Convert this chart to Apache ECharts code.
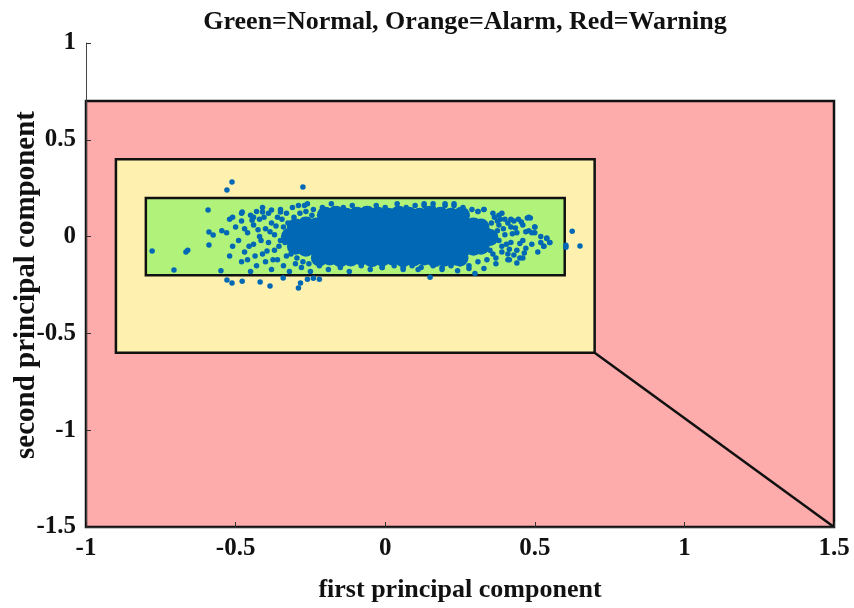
<!DOCTYPE html>
<html>
<head>
<meta charset="utf-8">
<script src="https://cdn.jsdelivr.net/npm/echarts@6/dist/echarts.min.js"></script>
<style>
  html, body { margin: 0; padding: 0; background: #fff; }
  #main { width: 854px; height: 608px; }
</style>
</head>
<body>
<div id="main"></div>
<script>
// control limits (polygon corners, data units)
var redZone = [[-1, 0.7], [1.5, 0.7], [1.5, -1.5], [-1, -1.5]];
var yellowZone = [[-0.9, 0.4], [0.7, 0.4], [0.7, -0.6], [-0.9, -0.6]];
var greenZone = [[-0.8, 0.2], [0.6, 0.2], [0.6, -0.2], [-0.8, -0.2]];
var diagonal = [[0.7, -0.6], [1.5, -1.5]];

var xTicks = [-1, -0.5, 0, 0.5, 1, 1.5];
var yTicks = [-1.5, -1, -0.5, 0, 0.5, 1];

// dense middle of the cloud (drawn with bigger dots)
var corePoints = [
    [-0.20, 0.11], [-0.165, 0.115], [-0.13, 0.105], [-0.095, 0.11], [-0.06, 0.115], [-0.025, 0.11], [0.01, 0.105],
    [0.045, 0.115], [0.08, 0.11], [0.115, 0.105], [0.15, 0.115], [0.185, 0.11], [0.22, 0.105], [0.255, 0.11],
    [-0.30, 0.05], [-0.265, 0.06], [-0.23, 0.055], [-0.195, 0.05], [-0.16, 0.06], [-0.125, 0.055], [-0.09, 0.05],
    [-0.055, 0.06], [-0.02, 0.055], [0.015, 0.05], [0.05, 0.06], [0.085, 0.055], [0.12, 0.05], [0.155, 0.06],
    [0.19, 0.055], [0.225, 0.05], [0.26, 0.06], [0.295, 0.055], [0.32, 0.05],
    [-0.32, 0.0], [-0.295, 0.005], [-0.26, -0.005], [-0.225, 0.0], [-0.19, 0.005], [-0.155, -0.005], [-0.12, 0.0],
    [-0.085, 0.005], [-0.05, -0.005], [-0.015, 0.0], [0.02, 0.005], [0.055, -0.005], [0.09, 0.0], [0.125, 0.005],
    [0.16, -0.005], [0.195, 0.0], [0.23, 0.005], [0.265, -0.005], [0.30, 0.0], [0.335, 0.005], [0.35, -0.005],
    [-0.30, -0.05], [-0.265, -0.06], [-0.23, -0.055], [-0.195, -0.05], [-0.16, -0.06], [-0.125, -0.055], [-0.09, -0.05],
    [-0.055, -0.06], [-0.02, -0.055], [0.015, -0.05], [0.05, -0.06], [0.085, -0.055], [0.12, -0.05], [0.155, -0.06],
    [0.19, -0.055], [0.225, -0.05], [0.26, -0.06], [0.295, -0.055], [0.32, -0.05],
    [-0.22, -0.11], [-0.185, -0.105], [-0.15, -0.115], [-0.115, -0.11], [-0.08, -0.105], [-0.045, -0.115], [-0.01, -0.11],
    [0.025, -0.105], [0.06, -0.115], [0.095, -0.11], [0.13, -0.105], [0.165, -0.115], [0.20, -0.11], [0.235, -0.105],
    [0.25, -0.11]
];

// scattered points round the edge of the cloud, and outliers
var edgePoints = [
    [-0.50, 0.05], [-0.49, -0.02], [-0.48, 0.08], [-0.47, -0.08], [-0.46, 0.02], [-0.46, -0.12], [-0.45, 0.11],
    [-0.44, -0.04], [-0.44, 0.06], [-0.43, -0.15], [-0.42, 0.0], [-0.42, 0.09], [-0.41, -0.09], [-0.40, 0.04],
    [-0.40, -0.13], [-0.39, 0.12], [-0.39, -0.03], [-0.38, 0.07], [-0.38, -0.17], [-0.37, -0.07], [-0.37, 0.01],
    [-0.36, 0.10], [-0.36, -0.12], [-0.35, 0.14], [-0.35, -0.02], [-0.34, -0.15], [-0.34, 0.05], [-0.33, -0.10],
    [-0.33, 0.12], [-0.32, -0.18], [-0.31, 0.15], [-0.30, -0.14], [-0.52, -0.10], [-0.53, 0.02], [-0.51, -0.05],
    [-0.48, -0.13], [-0.45, -0.18], [-0.43, 0.13], [-0.41, 0.15], [-0.48, 0.12],
    [-0.47, 0.04], [-0.455, -0.05], [-0.445, 0.085], [-0.435, -0.10], [-0.425, 0.035], [-0.415, -0.02],
    [-0.405, 0.10], [-0.395, -0.075], [-0.385, 0.025], [-0.375, -0.12], [-0.365, 0.055], [-0.355, -0.05],
    [-0.345, 0.09], [-0.335, -0.03], [-0.325, 0.07], [-0.315, -0.09], [-0.305, 0.10], [-0.295, -0.11],
    [-0.285, 0.12], [-0.275, -0.13], [-0.265, 0.13], [-0.255, -0.14], [-0.245, 0.11], [-0.235, -0.12],
    [-0.27, 0.16], [-0.24, 0.14], [-0.21, 0.15], [-0.18, 0.17], [-0.14, 0.15], [-0.11, 0.16], [-0.07, 0.14],
    [-0.03, 0.16], [0.0, 0.15], [0.04, 0.17], [0.07, 0.15], [0.10, 0.16], [0.13, 0.17], [0.16, 0.15], [0.20, 0.16],
    [0.23, 0.17], [0.26, 0.15], [0.29, 0.14], [0.31, 0.13], [0.33, 0.14], [0.36, 0.12], [0.38, 0.11],
    [-0.28, -0.16], [-0.25, -0.18], [-0.22, -0.15], [-0.19, -0.17], [-0.15, -0.16], [-0.12, -0.18], [-0.08, -0.15],
    [-0.05, -0.17], [-0.01, -0.16], [0.03, -0.15], [0.06, -0.17], [0.09, -0.15], [0.12, -0.16], [0.16, -0.15],
    [0.19, -0.17], [0.22, -0.15], [0.25, -0.14], [0.28, -0.15], [0.31, -0.13], [0.34, -0.12], [0.37, -0.11],
    [0.38, 0.06], [0.39, -0.05], [0.40, 0.09], [0.40, 0.01], [0.41, -0.09], [0.42, 0.05], [0.42, -0.03],
    [0.43, 0.08], [0.44, -0.07], [0.44, 0.02], [0.45, -0.11], [0.46, 0.06], [0.46, -0.02], [0.47, -0.06],
    [0.48, 0.03], [0.48, 0.10], [0.49, -0.04], [0.50, 0.05], [0.51, -0.08], [0.52, 0.0], [0.53, -0.05],
    [0.54, -0.01], [0.55, -0.03], [0.50, 0.02], [0.39, 0.12], [0.41, -0.12],
    [0.375, 0.03], [0.38, -0.02], [0.385, 0.09], [0.39, -0.08], [0.395, 0.04], [0.405, -0.04], [0.41, 0.07],
    [0.415, -0.065], [0.425, 0.015], [0.43, -0.095], [0.435, 0.045], [0.45, -0.035], [0.455, 0.075],
    [0.465, -0.085], [0.47, 0.025], [0.375, 0.08], [0.36, -0.09], [0.365, 0.10], [0.355, 0.07], [0.35, -0.07],
    [0.475, 0.096], [0.485, 0.096], [0.50, 0.05], [0.49, 0.02], [0.445, 0.09], [0.42, 0.09],
    [0.16, 0.17], [0.13, 0.16], [0.20, 0.17], [0.23, 0.16], [0.33, 0.14], [0.31, 0.13],
    [-0.01, -0.16], [0.06, -0.16], [0.11, -0.17], [0.19, -0.16], [0.15, -0.21], [0.242, -0.177],
    [0.30, -0.19], [0.33, -0.165], [0.28, -0.165], [0.37, -0.14], [0.415, -0.12], [0.44, -0.137], [0.46, -0.11],
    [0.55, -0.03], [0.54, -0.007], [0.53, -0.05], [0.52, -0.03],
    [-0.512, 0.282], [-0.529, 0.241], [-0.275, 0.256], [-0.779, -0.074], [-0.666, -0.079], [-0.66, -0.07],
    [-0.706, -0.172], [-0.592, 0.138], [-0.589, 0.024], [-0.589, -0.043], [-0.575, 0.008], [-0.546, 0.03],
    [-0.549, -0.177], [-0.529, -0.224], [-0.512, -0.24], [-0.478, -0.23], [-0.418, -0.235], [-0.385, -0.255],
    [-0.341, -0.214], [-0.29, -0.266], [-0.283, -0.24], [-0.26, -0.22], [-0.24, -0.215], [-0.22, -0.22],
    [-0.478, 0.127], [-0.52, 0.09], [-0.51, 0.10], [-0.41, 0.127], [-0.44, 0.10], [-0.38, 0.138], [-0.35, 0.127],
    [-0.29, 0.16], [-0.26, 0.17],
    [0.625, 0.028], [0.651, -0.049], [0.604, -0.055], [0.604, -0.045]
];

var lineColor = '#111';
var serif = '"Liberation Serif", "Times New Roman", serif';

function zoneItem(pts, fill, api) {
    return {
        type: 'polygon',
        shape: { points: pts.map(function(p) { return api.coord(p); }) },
        style: { fill: fill, stroke: lineColor, lineWidth: 2.5 }
    };
}

var chart = echarts.init(document.getElementById('main'));

var option = {
    backgroundColor: '#fff',
    animation: false,
    title: {
        text: 'Green=Normal, Orange=Alarm, Red=Warning',
        left: 460,
        top: 4,
        textAlign: 'center',
        textStyle: { fontFamily: serif, fontWeight: 'bold', fontSize: 26, color: '#111' }
    },
    grid: { left: 86, right: 20, top: 43, bottom: 81, outerBoundsMode: 'none' },
    xAxis: {
        type: 'value',
        min: -1, max: 1.5, interval: 0.5,
        z: 10,
        name: 'first principal component',
        nameLocation: 'middle',
        nameGap: 50,
        nameMoveOverlap: false,
        nameTextStyle: { fontFamily: serif, fontWeight: 'bold', fontSize: 26, color: '#111' },
        axisLine: { show: true, onZero: false, lineStyle: { color: '#333', width: 1 } },
        axisTick: { show: true, inside: true, length: 5, lineStyle: { color: '#333' } },
        axisLabel: { fontFamily: serif, fontWeight: 'bold', fontSize: 25, color: '#111', margin: 9,
            formatter: function(v) { return xTicks.indexOf(v) >= 0 ? String(v) : ''; } },
        splitLine: { show: false }
    },
    yAxis: {
        type: 'value',
        min: -1.5, max: 1, interval: 0.5,
        z: 10,
        name: 'second principal component',
        nameLocation: 'middle',
        nameGap: 45,
        nameMoveOverlap: false,
        nameRotate: 90,
        nameTextStyle: { fontFamily: serif, fontWeight: 'bold', fontSize: 29, color: '#111' },
        axisLine: { show: true, onZero: false, lineStyle: { color: '#444', width: 1 } },
        axisTick: { show: true, inside: true, length: 5, lineStyle: { color: '#333' } },
        axisLabel: { fontFamily: serif, fontWeight: 'bold', fontSize: 25, color: '#111', margin: 10,
            formatter: function(v) { return yTicks.indexOf(v) >= 0 ? String(v) : ''; } },
        splitLine: { show: false }
    },
    series: [
        {
            type: 'custom',
            z: 1,
            silent: true,
            data: [[0, 0]],
            renderItem: function(params, api) {
                return {
                    type: 'group',
                    children: [
                        zoneItem(redZone, '#FDABAB', api),
                        zoneItem(yellowZone, '#FEF0AE', api),
                        {
                            type: 'polyline',
                            shape: { points: diagonal.map(function(p) { return api.coord(p); }) },
                            style: { stroke: lineColor, lineWidth: 2.5, fill: null }
                        },
                        zoneItem(greenZone, '#B1F27A', api)
                    ]
                };
            }
        },
        {
            type: 'scatter',
            z: 3,
            data: corePoints,
            symbolSize: 17,
            itemStyle: { color: '#0068B5', opacity: 1 }
        },
        {
            type: 'scatter',
            z: 4,
            data: edgePoints,
            symbolSize: 5.5,
            itemStyle: { color: '#0068B5', opacity: 1 }
        }
    ]
};

chart.setOption(option);
</script>
</body>
</html>
